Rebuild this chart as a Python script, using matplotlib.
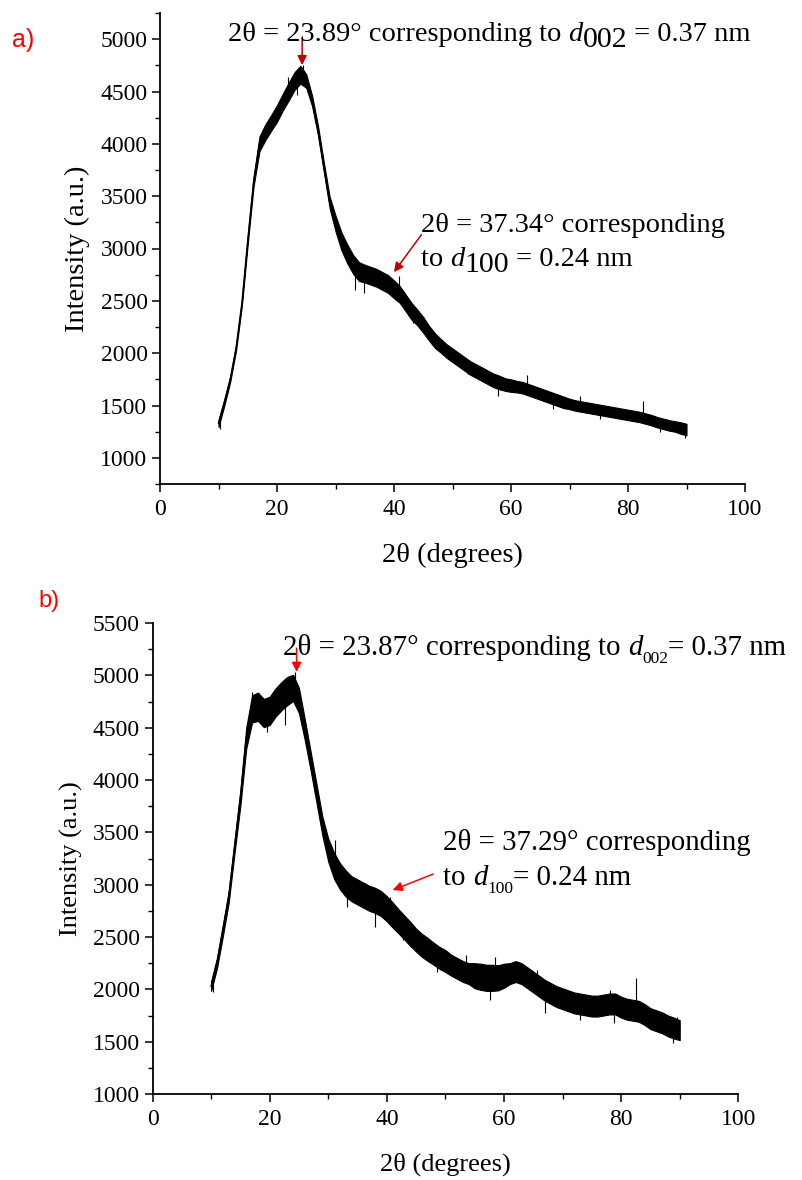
import matplotlib
matplotlib.use("Agg")
import matplotlib.pyplot as plt
from matplotlib.ticker import MultipleLocator
import numpy as np

W, H = 802, 1180
SERIF = "Liberation Serif"

# ---- data (1 degree steps) ----
two_theta = list(range(10, 91))

# panel a: centre of the noisy trace and half width of the noise band
int_a = [1330, 1530, 1750, 2050, 2480, 3080, 3640, 4000, 4110, 4200,
         4290, 4400, 4500, 4600, 4660, 4600, 4410, 4130, 3780, 3440,
         3240, 3070, 2950, 2850, 2780, 2760, 2740, 2720, 2690, 2660,
         2610, 2560, 2480, 2400, 2340, 2270, 2190, 2120, 2070, 2020,
         1980, 1940, 1900, 1860, 1830, 1800, 1770, 1740, 1720, 1700,
         1690, 1680, 1670, 1650, 1630, 1610, 1590, 1570, 1550, 1530,
         1515, 1500, 1490, 1480, 1470, 1460, 1450, 1440, 1430, 1420,
         1410, 1400, 1390, 1375, 1360, 1340, 1325, 1310, 1300, 1285,
         1270]
noise_a = [35, 30, 25, 25, 25, 35, 45, 70, 75, 75,
           80, 80, 85, 85, 85, 65, 50, 45, 45, 55,
           75, 85, 90, 90, 90, 85, 85, 85, 85, 85,
           85, 80, 80, 80, 75, 75, 70, 70, 65, 65,
           65, 65, 65, 65, 65, 65, 65, 65, 65, 60,
           60, 55, 55, 55, 55, 55, 55, 55, 55, 55,
           50, 50, 50, 50, 50, 50, 50, 50, 50, 50,
           50, 50, 50, 50, 50, 50, 50, 50, 50, 55,
           55]
spike_x_a = [10.3, 21.8, 23.4, 24.4, 25.6, 31.9, 33.3, 34.8, 40.9, 41.6,
             43.3, 44.4, 52.7, 57.8, 62.7, 67.2, 71.8, 75.2, 82.6, 85.5,
             86.6, 89.7]
spike_y_a = [1276, 4641, 4467, 4752, 4467, 2990, 2603, 2578, 2736, 2483,
             2292, 2388, 1800, 1594, 1790, 1467, 1594, 1371, 1546, 1244,
             1371, 1187]

# panel b
int_b = [2030, 2250, 2560, 2880, 3360, 3830, 4400, 4680, 4700, 4640,
         4660, 4740, 4800, 4850, 4880, 4760, 4480, 4180, 3870, 3560,
         3330, 3180, 3080, 3010, 2960, 2930, 2900, 2870, 2850, 2820,
         2770, 2710, 2650, 2590, 2530, 2470, 2420, 2380, 2340, 2300,
         2270, 2230, 2200, 2170, 2150, 2130, 2120, 2110, 2110, 2110,
         2130, 2150, 2170, 2150, 2110, 2070, 2030, 1990, 1960, 1930,
         1910, 1890, 1870, 1860, 1850, 1840, 1840, 1850, 1860, 1860,
         1830, 1810, 1800, 1790, 1760, 1720, 1700, 1680, 1650, 1630,
         1610]
noise_b = [45, 50, 55, 55, 60, 75, 100, 130, 135, 135,
           135, 135, 135, 135, 125, 120, 100, 90, 90, 90,
           110, 125, 125, 125, 120, 120, 120, 120, 120, 120,
           120, 120, 115, 115, 115, 110, 110, 110, 105, 105,
           105, 100, 100, 100, 100, 120, 125, 125, 125, 120,
           115, 100, 100, 100, 100, 100, 100, 100, 100, 100,
           100, 100, 100, 100, 100, 100, 100, 100, 100, 100,
           100, 100, 100, 100, 100, 100, 100, 100, 100, 100,
           95]
spike_x_b = [10.3, 11.5, 16.9, 19.5, 22.6, 22.9, 24.3, 25.2, 31.2, 33.2,
             38.0, 40.5, 42.8, 48.5, 53.6, 57.6, 58.5, 65.6, 67.0, 73.0,
             78.1, 78.7, 82.5, 88.9, 89.5]
spike_y_b = [1977, 2375, 4842, 4460, 4524, 4970, 5033, 4651, 3426, 2789,
             2598, 2885, 2471, 2168, 2328, 1898, 2311, 2184, 1771, 1707,
             1993, 1675, 2105, 1484, 1738]

fig = plt.figure(figsize=(W / 100, H / 100), dpi=100)
renderer = fig.canvas.get_renderer()


def make_axes(left, top, right, bottom, ylim, tick_size, label_size, ylab_x):
    ax = fig.add_axes([left / W, 1 - bottom / H, (right - left) / W, (bottom - top) / H])
    ax.set_xlim(0, 100)
    ax.set_ylim(*ylim)
    ax.xaxis.set_major_locator(MultipleLocator(20))
    ax.xaxis.set_minor_locator(MultipleLocator(10))
    ax.yaxis.set_major_locator(MultipleLocator(500))
    ax.yaxis.set_minor_locator(MultipleLocator(250))
    for s in ["top", "right"]:
        ax.spines[s].set_visible(False)
    for s in ["left", "bottom"]:
        ax.spines[s].set_linewidth(1.3)
    ax.tick_params(which="major", direction="out", length=6, width=1.1,
                   labelsize=tick_size, pad=3)
    ax.tick_params(which="minor", direction="out", length=3.5, width=1.0)
    ax.tick_params(axis="x", which="major", pad=5)
    for lab in ax.get_xticklabels() + ax.get_yticklabels():
        lab.set_family(SERIF)
    ax.set_xlabel("2θ (degrees)", family=SERIF, fontsize=label_size)
    ax.set_ylabel("Intensity (a.u.)", family=SERIF, fontsize=label_size)
    ax.xaxis.set_label_coords(0.5, -0.125)
    ax.yaxis.set_label_coords(ylab_x, 0.5)
    return ax


def draw_trace(ax, x, y, noise, sx, sy):
    y = np.array(y)
    n = np.array(noise)
    ax.fill_between(x, y - n, y + n, color="black", lw=0.8, edgecolor="black")
    ax.plot(x, y, color="black", lw=1.0)
    base = np.interp(sx, x, y)
    ax.vlines(sx, base, sy, color="black", lw=0.8)


def rich(x_px, y_px, pieces, size, color="black"):
    # pieces: (text, italic, scale, drop in px)
    x = x_px
    for s, it, sc, dy in pieces:
        t = fig.text(x / W, 1 - (y_px + dy) / H, s, fontsize=size * sc,
                     family=SERIF, style="italic" if it else "normal",
                     ha="left", va="baseline", color=color)
        x += t.get_window_extent(renderer).width


def arrow(ax, tip, tail, color, head_color=None):
    ax.annotate("", xy=tip, xytext=tail,
                arrowprops=dict(arrowstyle="-|>", color=color, lw=1.1,
                                mutation_scale=14, shrinkA=0, shrinkB=0,
                                fc=head_color or color, ec=head_color or color))


# ---- panel a ----
ax_a = make_axes(160, 13, 745, 484, (750, 5250), 17, 20.5, -0.12)
draw_trace(ax_a, two_theta, int_a, noise_a, spike_x_a, spike_y_a)
arrow(ax_a, (24.3, 4752), (24.3, 5020), "#A00000", "#C00000")
arrow(ax_a, (40.0, 2774), (44.7, 3133), "#7A1010", "#C00000")
rich(228, 41, [("2θ = 23.89° corresponding to ", False, 1, 0), ("d", True, 1, 0),
               ("002", False, 1.05, 6), (" = 0.37 nm", False, 1, 0)], 20.5)
rich(421, 232, [("2θ = 37.34° corresponding", False, 1, 0)], 20.5)
rich(421, 266, [("to ", False, 1, 0), ("d", True, 1, 0),
                ("100", False, 1.05, 6), (" = 0.24 nm", False, 1, 0)], 20.5)
fig.text(12 / W, 1 - 40 / H, "a)", family="Liberation Sans", fontsize=18,
         color="#FF0000", ha="left", va="center")

# ---- panel b ----
ax_b = make_axes(152.5, 623, 738.3, 1094, (1000, 5500), 17, 19, -0.119)
draw_trace(ax_b, two_theta, int_b, noise_b, spike_x_b, spike_y_b)
arrow(ax_b, (24.6, 5033), (24.6, 5260), "#FF0000")
arrow(ax_b, (41.0, 2948), (47.9, 3101), "#FF0000")
rich(283, 655, [("2θ = 23.87° corresponding to ", False, 1, 0), ("d", True, 1, 0),
                ("002", False, 0.6, 8), ("= 0.37 nm", False, 1, 0)], 20.8)
rich(443, 850, [("2θ = 37.29° corresponding", False, 1, 0)], 20.8)
rich(443, 885, [("to ", False, 1, 0), ("d", True, 1, 0),
                ("100", False, 0.6, 8), ("= 0.24 nm", False, 1, 0)], 20.8)
fig.text(38 / W, 1 - 601 / H, "b)", family="Liberation Sans", fontsize=17,
         color="#FF0000", ha="left", va="center")

fig.savefig("out.png", dpi=100)
